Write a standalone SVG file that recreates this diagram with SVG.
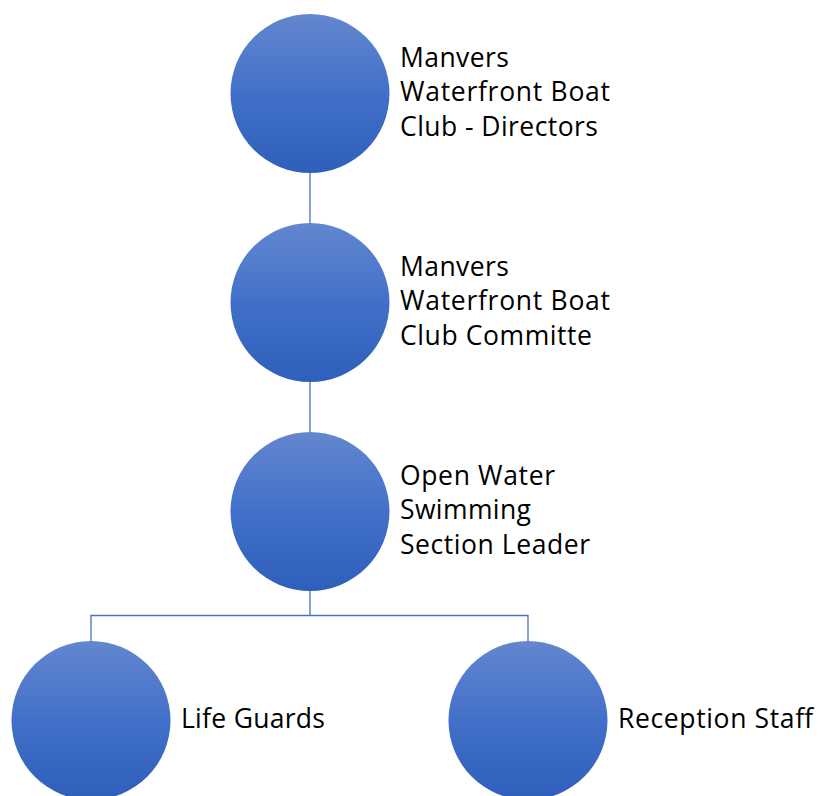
<svg xmlns="http://www.w3.org/2000/svg" width="818" height="796" viewBox="0 0 818 796">
<defs>
<linearGradient id="g" x1="0" y1="0" x2="0" y2="1">
<stop offset="0" stop-color="#6387cf"/>
<stop offset="0.5" stop-color="#4270c9"/>
<stop offset="1" stop-color="#2e5fba"/>
</linearGradient>
<style>
.c{fill:url(#g);}
.t{font-family:"Open Sans","Liberation Sans",sans-serif;font-size:26.5px;fill:#000;}
.l{fill:none;stroke:#4a72bd;stroke-width:1.3;}
</style>
</defs>
<rect width="818" height="796" fill="#fff"/>
<g id="connectors">
<path class="l" d="M310 173V223"/>
<path class="l" d="M310 382V432"/>
<path class="l" d="M310 591V615.5H91V641M310 615.5H528V641"/>
</g>
<g id="n1"><circle class="c" cx="310" cy="93.5" r="79.5"/>
<text class="t"><tspan x="400" y="67" textLength="109" lengthAdjust="spacing">Manvers</tspan><tspan x="400" y="101" textLength="210" lengthAdjust="spacing">Waterfront Boat</tspan><tspan x="400" y="136" textLength="198" lengthAdjust="spacing">Club - Directors</tspan></text></g>
<g id="n2"><circle class="c" cx="310" cy="302.5" r="79.5"/>
<text class="t"><tspan x="400" y="276" textLength="109" lengthAdjust="spacing">Manvers</tspan><tspan x="400" y="310" textLength="210" lengthAdjust="spacing">Waterfront Boat</tspan><tspan x="400" y="345" textLength="192" lengthAdjust="spacing">Club Committe</tspan></text></g>
<g id="n3"><circle class="c" cx="310" cy="511.5" r="79.5"/>
<text class="t"><tspan x="400" y="485" textLength="155" lengthAdjust="spacing">Open Water</tspan><tspan x="400" y="519" textLength="131" lengthAdjust="spacing">Swimming</tspan><tspan x="400" y="554" textLength="190" lengthAdjust="spacing">Section Leader</tspan></text></g>
<g id="n4"><circle class="c" cx="91" cy="720.5" r="79.5"/>
<text class="t" x="181" y="728" textLength="144" lengthAdjust="spacing">Life Guards</text></g>
<g id="n5"><circle class="c" cx="528" cy="720.5" r="79.5"/>
<text class="t" x="618" y="728" textLength="195" lengthAdjust="spacing">Reception Staff</text></g>
</svg>
